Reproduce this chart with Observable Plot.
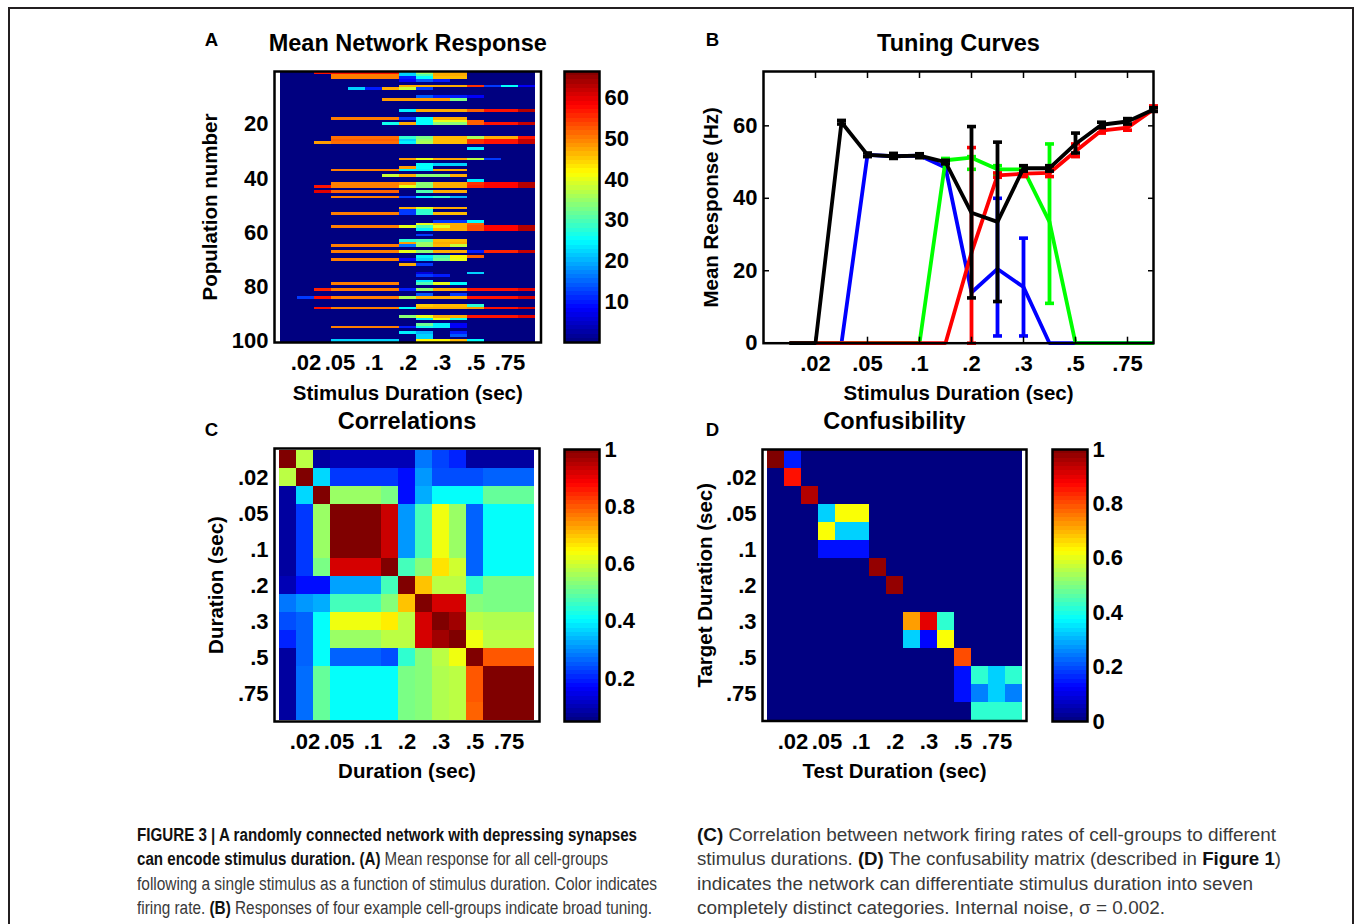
<!DOCTYPE html>
<html><head><meta charset="utf-8">
<script src="https://cdn.jsdelivr.net/npm/d3@7"></script>
<script src="https://cdn.jsdelivr.net/npm/@observablehq/plot@0.6"></script>
<style>
html,body{margin:0;padding:0;background:#fff;}
#fig{position:relative;width:1355px;height:924px;overflow:hidden;background:#fff;}
.panel{position:absolute;}
#border{position:absolute;left:8px;top:7px;width:1342px;height:960px;border-left:2px solid #231f20;border-top:2px solid #231f20;border-right:2px solid #231f20;}
.capline{position:absolute;white-space:pre;font-size:18px;line-height:1;color:#3a3a3a;transform-origin:0 0;font-family:'Liberation Sans',Arial,Helvetica,sans-serif;}
.capline b{color:#111;}
</style></head><body><div id="fig"><div id="border"></div></div>
<script>
// ---------------- DATA ----------------
const durIdx = [0,1,2,3,4,5,6,7,8,9,10,11,12,13,14];
const durTickIdx = [1,3,5,7,9,11,13];
const durTickLabels = [".02",".05",".1",".2",".3",".5",".75"];
const popTicks = [20,40,60,80,100];
const nPop = 100;

// Panel A: [population row, first duration col, last duration col, firing rate]; all other cells are 0
const segmentsA = [
 [1,2,6,57],[1,7,7,22],[1,8,8,35],[1,9,10,47],
 [2,3,6,50],[2,7,7,22],[2,8,8,30],[2,9,10,47],
 [3,3,6,50],[3,7,7,10],[3,8,8,25],[3,9,10,46],
 [4,7,7,8],[4,8,8,14],[4,9,9,10],
 [6,7,10,47],[6,11,11,55],[6,12,12,12],[6,13,13,25],[6,14,14,8],
 [7,4,4,22],[7,5,5,10],[7,6,6,47],[7,7,7,38],[7,8,8,12],
 [10,8,8,14],[10,9,10,10],[10,11,11,8],
 [11,6,9,48],[11,10,10,33],
 [15,7,7,24],[15,8,10,47],[15,11,11,52],[15,12,13,57],[15,14,14,63],
 [18,3,6,50],[18,7,7,12],[18,8,8,25],[18,9,10,47],
 [19,8,8,25],[19,9,10,40],[19,11,11,52],
 [20,6,6,26],[20,7,7,47],[20,8,8,25],[20,9,10,34],[20,11,11,52],[20,12,13,57],[20,14,14,62],
 [25,3,6,51],[25,7,7,28],[25,8,8,33],[25,9,10,46],[25,11,11,36],[25,12,13,47],[25,14,14,57],
 [26,3,6,52],[26,7,7,22],[26,8,8,35],[26,9,10,46],[26,11,11,55],[26,12,13,57],[26,14,14,62],
 [27,2,2,48],[27,3,6,51],[27,7,7,24],[27,8,8,36],[27,9,10,46],[27,11,11,55],[27,12,13,57],[27,14,14,62],
 [29,11,11,24],
 [33,7,7,48],[33,8,8,40],[33,9,10,47],[33,11,11,37],[33,12,12,12],
 [35,8,8,25],[35,9,10,22],
 [36,7,7,48],[36,8,8,25],
 [37,3,6,50],[37,7,7,24],[37,8,8,24],[37,9,10,47],
 [39,6,6,38],[39,7,7,47],[39,8,9,34],[39,10,10,47],
 [41,11,11,24],
 [42,3,6,50],[42,7,7,48],[42,8,8,34],[42,9,10,47],[42,11,11,55],[42,12,13,58],[42,14,14,63],
 [43,2,2,57],[43,3,6,50],[43,7,7,40],[43,8,8,34],[43,9,10,47],[43,11,11,56],[43,12,13,58],[43,14,14,63],
 [45,2,2,60],[45,3,6,52],[45,8,8,30],[45,9,10,47],
 [47,3,6,50],[47,7,7,12],[47,8,8,24],[47,9,9,28],[47,10,10,20],
 [51,7,7,47],[51,8,8,40],[51,9,10,47],
 [52,7,7,12],[52,8,8,28],
 [53,3,6,50],[53,7,7,12],[53,8,8,28],[53,9,10,46],
 [56,9,10,12],[56,11,11,25],
 [57,8,8,40],[57,9,9,46],[57,10,10,47],[57,11,11,52],
 [58,3,6,50],[58,7,7,40],[58,8,8,30],[58,9,9,40],[58,10,10,47],[58,11,11,53],[58,12,13,58],[58,14,14,63],
 [59,8,8,24],[59,9,9,46],[59,10,10,47],[59,11,11,53],[59,12,13,58],[59,14,14,63],
 [61,8,8,12],
 [63,7,7,28],[63,8,8,30],[63,9,10,46],
 [64,7,7,48],[64,8,8,35],[64,9,10,47],
 [65,3,6,50],[65,7,7,16],[65,8,8,35],[65,9,9,46],[65,10,10,38],
 [67,3,6,50],[67,7,7,40],[67,8,8,34],[67,9,10,47],[67,11,11,10],[67,12,13,56],[67,14,14,62],
 [69,8,8,24],[69,9,9,30],[69,10,10,42],[69,11,11,52],
 [70,3,6,50],[70,7,7,8],[70,8,8,22],[70,9,9,32],[70,10,10,40],
 [72,7,7,47],[72,8,8,12],
 [75,8,8,6],[75,11,11,22],
 [76,8,8,12],[76,9,9,10],
 [78,8,8,24],
 [79,3,6,50],[79,8,8,30],[79,9,9,40],[79,10,10,25],
 [81,2,2,56],[81,3,6,50],[81,7,7,10],[81,8,8,34],[81,9,10,47],[81,11,13,57],[81,14,14,60],
 [83,8,8,14],[83,10,10,12],
 [84,1,1,12],[84,2,2,57],[84,3,6,50],[84,7,7,36],[84,8,10,47],[84,11,13,57],[84,14,14,61],
 [87,8,8,45],[87,9,10,46],[87,11,11,28],
 [88,2,2,57],[88,3,6,50],[88,7,7,25],[88,8,10,47],[88,11,11,48],[88,12,13,57],[88,14,14,61],
 [91,7,7,34],[91,8,8,40],[91,9,10,47],[91,11,13,57],[91,14,14,60],
 [92,8,8,24],[92,9,9,40],[92,10,10,26],
 [94,8,8,32],[94,9,9,24],[94,10,10,8],
 [95,3,6,50],[95,7,7,10],[95,8,8,26],[95,9,9,24],[95,10,10,8],
 [97,7,7,24],[97,8,8,20],[97,10,10,10],
 [98,8,8,22],[98,10,10,14],
 [99,8,8,22],
 [100,3,6,22],[100,8,9,42],[100,10,10,46],[100,11,11,25]
];
const rateDomain = [0, 66.5];
const rateTicks = [10,20,30,40,50,60];

// Panel B: tuning curves (mean, lower and upper error)
const blackY  = [0,0,61,52,51.6,51.8,50,36,33.5,48.3,48.3,55,60.3,61.2,64.5];
const blackLo = [0,0,60.5,51.5,51,51.2,49.5,12.5,11.5,47.5,47.5,52.5,59.5,60.5,64];
const blackHi = [0,0,61.5,52.5,52.4,52.3,50.5,59.8,55.5,49,49,58,61,62,65];
const redY  = [0,0,0,0,0,0,0,25,46.3,46.8,47,53,58.7,59.5,64.5];
const redLo = [0,0,0,0,0,0,0,0,45.8,46,46,51.5,58,58.8,64];
const redHi = [0,0,0,0,0,0,0,54,47,47.5,48,55,59.5,60.3,65.5];
const blueY  = [0,0,0,52,51.6,51.8,48.5,14,20.5,15.5,0,0,0,0,0];
const blueLo = [0,0,0,52,51.6,51.8,48.5,14,2,2,0,0,0,0,0];
const blueHi = [0,0,0,52,51.6,51.8,48.5,14,40,29,0,0,0,0,0];
const greenY  = [0,0,0,0,0,0,50.5,51.2,48,48,33.5,0,0,0,0];
const greenLo = [0,0,0,0,0,0,50,48,46.5,47.5,11,0,0,0,0];
const greenHi = [0,0,0,0,0,0,51,51.5,49,48.8,55,0,0,0,0];
const respTicks = [0,20,40,60];

// Panel C: correlations
const corrRows = [
 [1.00,0.58,0.08,0.10,0.10,0.10,0.10,0.10,0.28,0.23,0.20,0.08,0.08,0.08,0.08],
 [0.58,1.00,0.37,0.22,0.22,0.22,0.22,0.18,0.31,0.24,0.24,0.24,0.26,0.26,0.26],
 [0.08,0.37,1.00,0.55,0.55,0.55,0.52,0.18,0.33,0.41,0.41,0.41,0.50,0.50,0.50],
 [0.08,0.22,0.55,1.00,1.00,1.00,0.93,0.31,0.47,0.63,0.55,0.26,0.41,0.41,0.41],
 [0.08,0.22,0.55,1.00,1.00,1.00,0.93,0.31,0.47,0.63,0.55,0.26,0.41,0.41,0.41],
 [0.08,0.22,0.55,1.00,1.00,1.00,0.93,0.31,0.47,0.63,0.55,0.26,0.41,0.41,0.41],
 [0.08,0.22,0.52,0.92,0.92,0.92,1.00,0.47,0.53,0.67,0.60,0.26,0.41,0.41,0.41],
 [0.10,0.18,0.18,0.32,0.32,0.32,0.47,1.00,0.70,0.58,0.58,0.45,0.52,0.52,0.52],
 [0.28,0.31,0.33,0.47,0.47,0.47,0.53,0.70,1.00,0.92,0.92,0.53,0.52,0.52,0.52],
 [0.24,0.26,0.41,0.63,0.63,0.63,0.66,0.58,0.92,1.00,0.97,0.58,0.57,0.57,0.57],
 [0.20,0.26,0.41,0.55,0.55,0.55,0.58,0.58,0.92,0.97,1.00,0.63,0.58,0.58,0.58],
 [0.08,0.26,0.41,0.26,0.26,0.26,0.24,0.45,0.53,0.58,0.63,1.00,0.80,0.80,0.80],
 [0.08,0.27,0.50,0.41,0.41,0.41,0.41,0.52,0.53,0.57,0.58,0.80,1.00,1.00,1.00],
 [0.08,0.27,0.50,0.41,0.41,0.41,0.41,0.52,0.53,0.57,0.58,0.80,1.00,1.00,1.00],
 [0.08,0.27,0.50,0.41,0.41,0.41,0.41,0.52,0.53,0.57,0.58,0.79,1.00,1.00,1.00]
];
const corrDomain = [0.05, 1];
const corrTicks = [0.2,0.4,0.6,0.8,1];
const corrTickLabels = ["0.2","0.4","0.6","0.8","1"];

// Panel D: confusability
const confRows = [
 [1.00,0.15,0,0,0,0,0,0,0,0,0,0,0,0,0],
 [0,0.86,0,0,0,0,0,0,0,0,0,0,0,0,0],
 [0,0,0.95,0,0,0,0,0,0,0,0,0,0,0,0],
 [0,0,0,0.33,0.62,0.62,0,0,0,0,0,0,0,0,0],
 [0,0,0,0.62,0.33,0.33,0,0,0,0,0,0,0,0,0],
 [0,0,0,0.14,0.14,0.14,0,0,0,0,0,0,0,0,0],
 [0,0,0,0,0,0,0.98,0,0,0,0,0,0,0,0],
 [0,0,0,0,0,0,0,0.98,0,0,0,0,0,0,0],
 [0,0,0,0,0,0,0,0,0,0,0,0,0,0,0],
 [0,0,0,0,0,0,0,0,0.72,0.90,0.42,0,0,0,0],
 [0,0,0,0,0,0,0,0,0.33,0.13,0.62,0,0,0,0],
 [0,0,0,0,0,0,0,0,0,0,0,0.80,0,0,0],
 [0,0,0,0,0,0,0,0,0,0,0,0.14,0.42,0.33,0.42],
 [0,0,0,0,0,0,0,0,0,0,0,0.14,0.25,0.33,0.25],
 [0,0,0,0,0,0,0,0,0,0,0,0,0.42,0.42,0.42]
];
const confDomain = [0, 1];
const confTicks = [0,0.2,0.4,0.6,0.8,1];
const confTickLabels = ["0","0.2","0.4","0.6","0.8","1"];

// Caption
const captionLeft = [
 [["b","FIGURE 3 | A randomly connected network with depressing synapses"]],
 [["b","can encode stimulus duration. (A)"],["r"," Mean response for all cell-groups"]],
 [["r","following a single stimulus as a function of stimulus duration. Color indicates"]],
 [["r","firing rate. "],["b","(B)"],["r"," Responses of four example cell-groups indicate broad tuning."]]
];
const captionRight = [
 [["b","(C)"],["r"," Correlation between network firing rates of cell-groups to different"]],
 [["r","stimulus durations. "],["b","(D)"],["r"," The confusability matrix (described in "],["b","Figure 1"],["r",")"]],
 [["r","indicates the network can differentiate stimulus duration into seven"]],
 [["r","completely distinct categories. Internal noise, \u03c3 = 0.002."]]
];

// ---------------- HELPERS ----------------
const FONT = "'Liberation Sans', Arial, Helvetica, sans-serif";
const fig = document.getElementById("fig");
function place(node, left, top) {
  const d = document.createElement("div");
  d.className = "panel"; d.style.left = left + "px"; d.style.top = top + "px";
  d.appendChild(node); fig.appendChild(d);
}
const jet = t => {
  const c = v => Math.max(0, Math.min(1, v));
  const r = c(1.5 - Math.abs(4 * t - 3)), g = c(1.5 - Math.abs(4 * t - 2)), b = c(1.5 - Math.abs(4 * t - 1));
  return `rgb(${Math.round(r * 255)},${Math.round(g * 255)},${Math.round(b * 255)})`;
};
const style = {background: "transparent", overflow: "visible", fontFamily: FONT, color: "black"};
const durLabel = d => durTickLabels[durTickIdx.indexOf(d)];
const T = (s, o) => Plot.text([s], {textAnchor: "middle", lineAnchor: "middle", fontWeight: "bold", fill: "black", ...o});
const tickFont = {fontSize: 22, fontWeight: "bold", label: null, fill: "black"};
const frame = () => Plot.frame({stroke: "black", strokeWidth: 2.5});

function colorbar({domain, ticks, labels, height, mt, mb, ml, mr}) {
  const [lo, hi] = domain, n = 64;
  const bins = d3.range(n).map(i => ({y1: lo + i * (hi - lo) / n, y2: lo + (i + 1) * (hi - lo) / n, v: lo + (i + 0.5) * (hi - lo) / n}));
  return Plot.plot({
    width: 100, height, marginTop: mt, marginBottom: mb, marginLeft: ml, marginRight: mr, style,
    y: {domain: [lo, hi]},
    color: {type: "linear", domain: [lo, hi], interpolate: jet},
    marks: [
      Plot.rect(bins, {y1: "y1", y2: "y2", fill: "v", shapeRendering: "crispEdges"}),
      frame(),
      Plot.axisY(ticks, {anchor: "right", tickSize: 0, tickPadding: 5, ...tickFont, tickFormat: d => labels ? labels[ticks.indexOf(d)] : String(d)})
    ]
  });
}

// ---------------- PANEL A ----------------
const cellsA = [];
for (let r = 1; r <= nPop; r++) for (const c of durIdx) cellsA.push({r, c, v: 0});
for (const [r, c0, c1, v] of segmentsA) for (let c = c0; c <= c1; c++) cellsA[(r - 1) * durIdx.length + c].v = v;
const popRows = cellsA.filter(d => d.c === 0).map(d => d.r);

place(Plot.plot({
  width: 405, height: 410, marginLeft: 124, marginRight: 14.5, marginTop: 71, marginBottom: 68, style,
  x: {type: "band", domain: durIdx, padding: 0},
  y: {type: "band", domain: popRows, padding: 0},
  color: {type: "linear", domain: rateDomain, interpolate: jet},
  marks: [
    Plot.cell(cellsA, {x: "c", y: "r", fill: "v", inset: 0, shapeRendering: "crispEdges"}),
    frame(),
    Plot.axisX(durTickIdx, {anchor: "bottom", tickSize: 0, tickPadding: 12, tickFormat: durLabel, ...tickFont}),
    Plot.axisY(popTicks, {anchor: "left", tickSize: 0, tickPadding: 6, ...tickFont}),
    T("Mean Network Response", {frameAnchor: "top", dy: -28, fontSize: 23.5}),
    T("A", {frameAnchor: "top-left", dx: -63, dy: -31, fontSize: 18.6}),
    T("Population number", {frameAnchor: "left", dx: -64, rotate: -90, fontSize: 20.5}),
    T("Stimulus Duration (sec)", {frameAnchor: "bottom", dy: 51, fontSize: 20.5})
  ]
}), 150, 0);

place(colorbar({domain: rateDomain, ticks: rateTicks, height: 410, mt: 71, mb: 68, ml: 9, mr: 56}), 555, 0);

// ---------------- PANEL B ----------------
const cap = {draw(ctx, size) { const w = Math.sqrt(size / Math.PI); ctx.moveTo(-w, 0); ctx.lineTo(w, 0); }};
const seriesB = [
  {color: "#0000ff", y: blueY, lo: blueLo, hi: blueHi},
  {color: "#00ff00", y: greenY, lo: greenLo, hi: greenHi},
  {color: "#ff0000", y: redY, lo: redLo, hi: redHi},
  {color: "#000000", y: blackY, lo: blackLo, hi: blackHi}
];
const marksB = seriesB.flatMap(s => {
  const rows = durIdx.map((i, k) => ({i, y: s.y[k], lo: s.lo[k], hi: s.hi[k]}));
  const err = rows.filter(d => d.hi > d.lo);
  const caps = err.flatMap(d => [{i: d.i, y: d.lo}, {i: d.i, y: d.hi}]);
  return [
    Plot.line(rows, {x: "i", y: "y", stroke: s.color, strokeWidth: 3.8, strokeLinejoin: "miter", strokeLinecap: "butt"}),
    Plot.ruleX(err, {x: "i", y1: "lo", y2: "hi", stroke: s.color, strokeWidth: 3.8}),
    Plot.dot(caps, {x: "i", y: "y", symbol: cap, r: 4.5, stroke: s.color, strokeWidth: 3.6, fill: "none"})
  ];
});
place(Plot.plot({
  width: 520, height: 410, marginLeft: 108, marginRight: 22, marginTop: 71, marginBottom: 67.3, style,
  x: {domain: [-1, 14]},
  y: {domain: [0, 75]},
  marks: [
    ...marksB,
    frame(),
    Plot.axisX(durTickIdx, {anchor: "bottom", tickSize: -6, tickFormat: () => "", label: null, strokeWidth: 1.5}),
    Plot.axisX(durTickIdx, {anchor: "top", tickSize: -6, tickFormat: () => "", label: null, strokeWidth: 1.5}),
    Plot.axisY(respTicks, {anchor: "left", tickSize: -6, tickFormat: () => "", label: null, strokeWidth: 1.5}),
    Plot.axisY(respTicks, {anchor: "right", tickSize: -6, tickFormat: () => "", label: null, strokeWidth: 1.5}),
    Plot.axisX(durTickIdx, {anchor: "bottom", tickSize: 0, tickPadding: 12, tickFormat: durLabel, ...tickFont}),
    Plot.axisY(respTicks, {anchor: "left", tickSize: 0, tickPadding: 6, ...tickFont}),
    T("Tuning Curves", {frameAnchor: "top", dy: -28, fontSize: 23.5}),
    T("B", {frameAnchor: "top-left", dx: -51, dy: -31, fontSize: 18.6}),
    T("Mean Response (Hz)", {frameAnchor: "left", dx: -52, rotate: -90, fontSize: 20.5}),
    T("Stimulus Duration (sec)", {frameAnchor: "bottom", dy: 50.5, fontSize: 20.5})
  ]
}), 655, 0);

// ---------------- PANEL C ----------------
const cellsC = corrRows.flatMap((row, r) => row.map((v, c) => ({r: durIdx[r], c: durIdx[c], v})));
place(Plot.plot({
  width: 405, height: 390, marginLeft: 124, marginRight: 16, marginTop: 38, marginBottom: 79, style,
  x: {type: "band", domain: durIdx, padding: 0},
  y: {type: "band", domain: durIdx, padding: 0},
  color: {type: "linear", domain: corrDomain, interpolate: jet},
  marks: [
    Plot.cell(cellsC, {x: "c", y: "r", fill: "v", inset: 0, shapeRendering: "crispEdges"}),
    frame(),
    Plot.axisX(durTickIdx, {anchor: "bottom", tickSize: 0, tickPadding: 12, tickFormat: durLabel, ...tickFont}),
    Plot.axisY(durTickIdx, {anchor: "left", tickSize: 0, tickPadding: 6, tickFormat: durLabel, ...tickFont}),
    T("Correlations", {frameAnchor: "top", dy: -27, fontSize: 23.5}),
    T("C", {frameAnchor: "top-left", dx: -63, dy: -18, fontSize: 18.6}),
    T("Duration (sec)", {frameAnchor: "left", dx: -58, rotate: -90, fontSize: 20.5}),
    T("Duration (sec)", {frameAnchor: "bottom", dy: 50, fontSize: 20.5})
  ]
}), 150, 410);

place(colorbar({domain: corrDomain, ticks: corrTicks, labels: corrTickLabels, height: 390, mt: 39, mb: 79, ml: 9, mr: 56}), 555, 410);

// ---------------- PANEL D ----------------
const cellsD = confRows.flatMap((row, r) => row.map((v, c) => ({r: durIdx[r], c: durIdx[c], v})));
place(Plot.plot({
  width: 385, height: 390, marginLeft: 107, marginRight: 14, marginTop: 39, marginBottom: 79.5, style,
  x: {type: "band", domain: durIdx, padding: 0},
  y: {type: "band", domain: durIdx, padding: 0},
  color: {type: "linear", domain: confDomain, interpolate: jet},
  marks: [
    Plot.cell(cellsD, {x: "c", y: "r", fill: "v", inset: 0, shapeRendering: "crispEdges"}),
    frame(),
    Plot.axisX(durTickIdx, {anchor: "bottom", tickSize: 0, tickPadding: 12, tickFormat: durLabel, ...tickFont}),
    Plot.axisY(durTickIdx, {anchor: "left", tickSize: 0, tickPadding: 6, tickFormat: durLabel, ...tickFont}),
    T("Confusibility", {frameAnchor: "top", dy: -28, fontSize: 23.5}),
    T("D", {frameAnchor: "top-left", dx: -50, dy: -19, fontSize: 18.6}),
    T("Target Duration (sec)", {frameAnchor: "left", dx: -57, rotate: -90, fontSize: 20.5}),
    T("Test Duration (sec)", {frameAnchor: "bottom", dy: 50.5, fontSize: 20.5})
  ]
}), 655, 410);

place(colorbar({domain: confDomain, ticks: confTicks, labels: confTickLabels, height: 390, mt: 39, mb: 79, ml: 12, mr: 53}), 1040, 410);

// ---------------- CAPTION (HTML lines, each horizontally fitted to the reference extent) ----------------
const leftWidths = [500, 471, 520, 515];
const rightWidths = [579, 584, 556, 468];
const baselines = [841, 865, 890, 914];
function capLine(runs, x, baseline, w) {
  const d = document.createElement("div");
  d.className = "capline";
  d.style.left = x + "px";
  d.style.top = (baseline - 15.2) + "px";
  runs.forEach(([k, s]) => {
    const el = document.createElement(k === "b" ? "b" : "span");
    el.textContent = s;
    d.appendChild(el);
  });
  fig.appendChild(d);
  const nat = d.getBoundingClientRect().width;
  d.style.transform = `scaleX(${w / nat})`;
}
captionLeft.forEach((runs, i) => capLine(runs, 137, baselines[i], leftWidths[i]));
captionRight.forEach((runs, i) => capLine(runs, 697, baselines[i], rightWidths[i]));
</script></body></html>
